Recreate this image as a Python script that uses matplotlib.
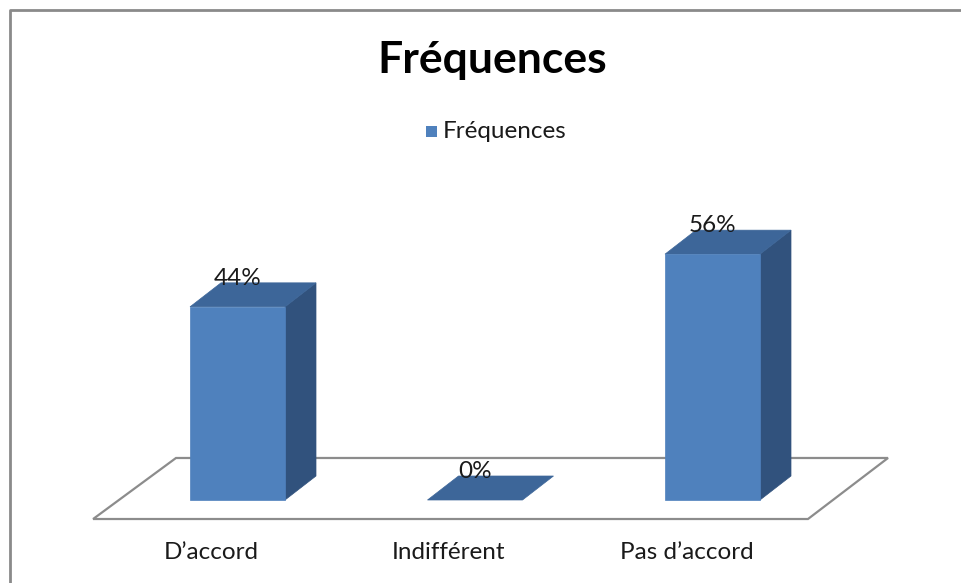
import matplotlib
matplotlib.use("Agg")
import matplotlib.pyplot as plt
from matplotlib.patches import Polygon, Rectangle
from matplotlib.lines import Line2D

categories = ["D\u2019accord", "Indifférent", "Pas d\u2019accord"]
values = [44, 0, 56]
value_labels = ["44%", "0%", "56%"]
series_name = "Fréquences"

FONT = ["Lato", "DejaVu Sans"]
FRONT = "#4F81BD"
TOP = "#3D6699"
SIDE = "#31527D"

W, H = 962, 583
fig = plt.figure(figsize=(W / 100, H / 100), dpi=100)
fig.patch.set_facecolor("white")

# axes spanning the whole figure; x = category index, y = percent
ax = fig.add_axes([0, 0, 1, 1])
px_x = 237.5          # pixels per category step
px_y = 4.39           # pixels per percent
x0_px, y0_px = 237.5, 83.0
ax.set_xlim(-x0_px / px_x, (W - x0_px) / px_x)
ax.set_ylim(-y0_px / px_y, (H - y0_px) / px_y)
ax.axis("off")

bar_w = 0.40
ddx = 31 / px_x       # oblique depth offset
ddy = 24 / px_y

# floor
floor = Polygon([(-0.608, -4.33), (2.402, -4.33), (2.739, 9.57), (-0.259, 9.57)],
                closed=True, facecolor="white", edgecolor="#8C8C8C", lw=1.6, zorder=1)
ax.add_patch(floor)

for i, (v, lab) in enumerate(zip(values, value_labels)):
    xl, xr = i - bar_w / 2, i + bar_w / 2
    if v > 0:
        ax.add_patch(Polygon([(xr, 0), (xr + ddx, ddy), (xr + ddx, v + ddy), (xr, v)],
                             closed=True, facecolor=SIDE, edgecolor=SIDE, lw=0.5, zorder=2))
        ax.add_patch(Polygon([(xl, v), (xr, v), (xr + ddx, v + ddy), (xl + ddx, v + ddy)],
                             closed=True, facecolor=TOP, edgecolor=TOP, lw=0.5, zorder=2))
        ax.add_patch(Rectangle((xl, 0), bar_w, v, facecolor=FRONT, edgecolor=FRONT,
                               lw=0.5, zorder=3))
    else:
        ax.add_patch(Polygon([(xl, 0), (xr, 0), (xr + ddx, ddy), (xl + ddx, ddy)],
                             closed=True, facecolor=TOP, edgecolor=TOP, lw=0.5, zorder=2))
    ax.text(i, v + ddy + 1.0, lab, ha="center", va="center", fontsize=17.5,
            family=FONT, color="#1A1A1A", zorder=5)
    ax.text(i - 0.11, -11.85, categories[i], ha="center", va="center", fontsize=17.5,
            family=FONT, color="#1A1A1A", zorder=5)

# title and legend
fig.text(492 / W, 1 - 60 / H, series_name, ha="center", va="center",
         fontsize=32, fontweight="bold", family=FONT, color="black")
fig.add_artist(Rectangle((426 / W, 1 - 137 / H), 11 / W, 11 / H,
                         transform=fig.transFigure, facecolor=FRONT, edgecolor="none"))
fig.text(443 / W, 1 - 131 / H, series_name, ha="left", va="center",
         fontsize=17.5, family=FONT, color="#1A1A1A")

# chart area border (top and left edges)
fig.add_artist(Line2D([9.5 / W, 9.5 / W, 1.0], [0.0, 1 - 9.5 / H, 1 - 9.5 / H],
                      transform=fig.transFigure, color="#8A8A8A", lw=2))

fig.savefig("out.png", dpi=100, facecolor="white")
